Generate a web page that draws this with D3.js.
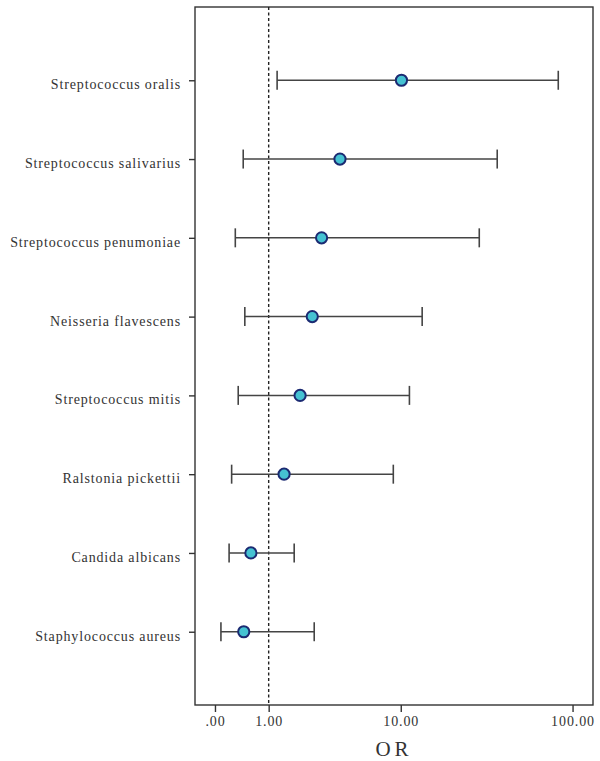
<!DOCTYPE html>
<html>
<head>
<meta charset="utf-8">
<script src="https://cdn.jsdelivr.net/npm/d3@7"></script>
<style>
  html, body { margin: 0; padding: 0; background: #fff; }
  svg { display: block; }
</style>
</head>
<body>
<svg id="chart" width="600" height="761"></svg>
<script>
// ---- data ----
const categories = [
  "Streptococcus oralis",
  "Streptococcus salivarius",
  "Streptococcus penumoniae",
  "Neisseria flavescens",
  "Streptococcus mitis",
  "Ralstonia pickettii",
  "Candida albicans",
  "Staphylococcus aureus"
];
const oddsRatio = [10.1, 4.02, 2.96, 2.51, 2.0, 1.44, 0.59, 0.45];
const lowerCI   = [1.23, 0.44, 0.30, 0.47, 0.35, 0.24, 0.20, 0.08];
const upperCI   = [83.0, 37.2, 29.3, 13.5, 11.3, 8.99, 1.78, 2.60];
const tickValues = [0, 1, 10, 100];
const tickLabels = [".00", "1.00", "10.00", "100.00"];
const referenceValue = 1;
const xDomain = [-0.294, 130.5];
const xTitle = "OR";

// ---- layout ----
const plot = { left: 195, top: 7, right: 593, bottom: 705 };
const svg = d3.select("#chart");

const x = d3.scaleSymlog().constant(1).domain(xDomain).range([plot.left, plot.right]);
const y = d3.scalePoint().domain(categories).range([plot.top, plot.bottom]).padding(0.93);

const rows = categories.map((c, i) => ({ name: c, or: oddsRatio[i], lo: lowerCI[i], hi: upperCI[i] }));

// frame
svg.append("rect")
  .attr("x", plot.left).attr("y", plot.top)
  .attr("width", plot.right - plot.left).attr("height", plot.bottom - plot.top)
  .attr("fill", "none").attr("stroke", "#333").attr("stroke-width", 1.4);

// bottom axis
const xAxis = d3.axisBottom(x).tickValues(tickValues)
  .tickFormat((d, i) => tickLabels[i]).tickSizeOuter(0).tickSize(7).tickPadding(4);
const gx = svg.append("g").attr("transform", `translate(0,${plot.bottom})`).call(xAxis);
gx.select(".domain").remove();
gx.selectAll(".tick line").attr("stroke", "#333").attr("stroke-width", 1.4);
gx.selectAll(".tick text")
  .attr("font-family", "'Liberation Serif', 'DejaVu Serif', serif")
  .attr("font-size", 14).attr("fill", "#333").attr("letter-spacing", 0.9);

// left axis
const yAxis = d3.axisLeft(y).tickSizeOuter(0).tickSize(6).tickPadding(8);
const gy = svg.append("g").attr("transform", `translate(${plot.left},0)`).call(yAxis);
gy.select(".domain").remove();
gy.selectAll(".tick line").attr("stroke", "#333").attr("stroke-width", 1.4);
gy.selectAll(".tick text")
  .attr("font-family", "'Liberation Serif', 'DejaVu Serif', serif")
  .attr("font-size", 14).attr("fill", "#333").attr("letter-spacing", 0.85)
  .attr("dy", "0.6em");

// axis title
svg.append("text")
  .attr("x", (plot.left + plot.right) / 2).attr("y", 756)
  .attr("text-anchor", "middle")
  .attr("font-family", "'Liberation Serif', 'DejaVu Serif', serif")
  .attr("font-size", 21).attr("fill", "#333").attr("letter-spacing", 4)
  .text(xTitle);

// reference line
svg.append("line")
  .attr("x1", x(referenceValue)).attr("x2", x(referenceValue))
  .attr("y1", plot.top).attr("y2", plot.bottom)
  .attr("stroke", "#222").attr("stroke-width", 1.4).attr("stroke-dasharray", "3,2.5");

// error bars
const g = svg.append("g");
const capH = 9.5;
g.selectAll(".ci").data(rows).join("line")
  .attr("x1", d => x(d.lo)).attr("x2", d => x(d.hi))
  .attr("y1", d => y(d.name)).attr("y2", d => y(d.name))
  .attr("stroke", "#444").attr("stroke-width", 1.5);
g.selectAll(".capL").data(rows).join("line")
  .attr("x1", d => x(d.lo)).attr("x2", d => x(d.lo))
  .attr("y1", d => y(d.name) - capH).attr("y2", d => y(d.name) + capH)
  .attr("stroke", "#444").attr("stroke-width", 1.6);
g.selectAll(".capH").data(rows).join("line")
  .attr("x1", d => x(d.hi)).attr("x2", d => x(d.hi))
  .attr("y1", d => y(d.name) - capH).attr("y2", d => y(d.name) + capH)
  .attr("stroke", "#444").attr("stroke-width", 1.6);

// points
g.selectAll("circle").data(rows).join("circle")
  .attr("cx", d => x(d.or)).attr("cy", d => y(d.name)).attr("r", 5.6)
  .attr("fill", "#45c2d2").attr("stroke", "#1b2a72").attr("stroke-width", 2);
</script>
</body>
</html>
